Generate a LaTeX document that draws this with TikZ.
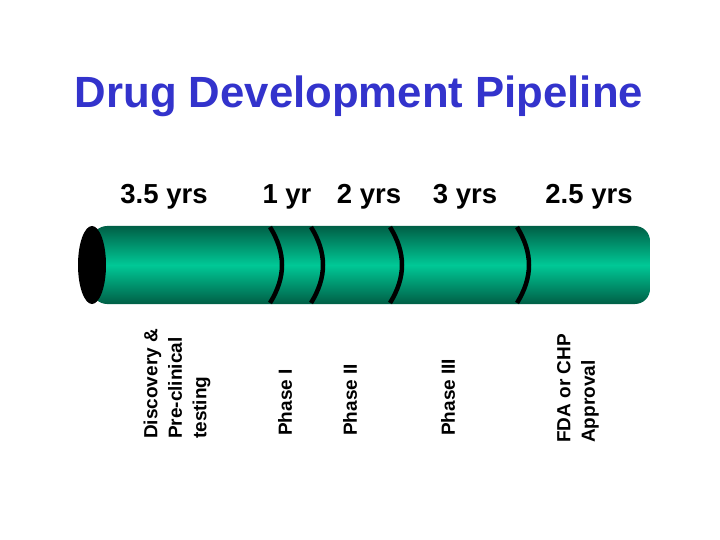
\documentclass[tikz,border=0pt]{standalone}
\usepackage{fontspec}
\setmainfont{Liberation Sans}
\usepackage{tikz}
\usetikzlibrary{arrows.meta}

\definecolor{pipedark}{RGB}{0,95,70}
\definecolor{pipelight}{RGB}{0,200,150}
\definecolor{titleblue}{RGB}{51,51,204}

\begin{document}
\begin{tikzpicture}[x=1pt,y=-1pt]
	\useasboundingbox (0,0) rectangle (720,540);

	% title
	\node[anchor=base,text=titleblue,font=\fontsize{43.7}{50}\selectfont\bfseries] (title) at (359,108) {Drug Development Pipeline};

	% the pipe
	\shade[top color=pipedark,bottom color=pipedark,middle color=pipelight,rounded corners=15pt]
		(92,226) -- (650,226) -- (650,304) -- (92,304) -- cycle;
	\fill[black] (92,265) ellipse [x radius=14, y radius=39];
	\foreach \x in {270,311,390,517}
		\draw[line width=4.5pt,black] (\x,227) .. controls (\x+16,253) and (\x+16,277) .. (\x,303);

	% durations
	\begin{scope}[every node/.style={inner sep=0pt,anchor=base,font=\fontsize{27.5}{30}\selectfont\bfseries}]
		\node (disc) at (164,204) {3.5 yrs};
		\node (one) at (287,204) {1 yr};
		\node (two) at (369,204) {2 yrs};
		\node (three) at (465,204) {3 yrs};
		\node (fda) at (589,204) {2.5 yrs};
	\end{scope}

	% stages
	\begin{scope}[every node/.style={inner sep=0pt,rotate=90,anchor=west,align=left,font=\fontsize{19}{24.5}\selectfont\bfseries}]
		\node (Disc) at (177,439) {Discovery \&\\Pre-clinical\\testing};
		\node (P1) at (285,436) {Phase I};
		\node (P2) at (350,436) {Phase II};
		\node (P3) at (448,436) {Phase III};
		\node (FDA) at (578,443) {FDA or CHP\\Approval};
	\end{scope}
\end{tikzpicture}
\end{document}
